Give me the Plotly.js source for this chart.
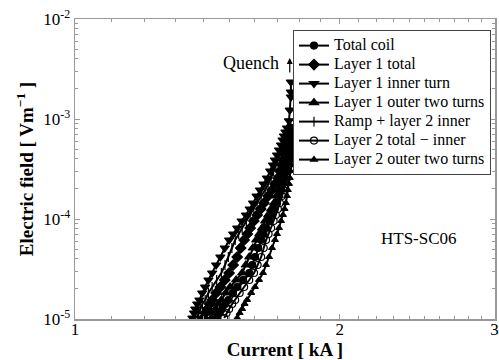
<!DOCTYPE html>
<html>
<head>
<meta charset="utf-8">
<script src="https://cdn.plot.ly/plotly-3.0.1.min.js"></script>
<style>html,body{margin:0;padding:0;background:#fff;}#chart{width:499px;height:360px;}</style>
</head>
<body>
<div id="chart"></div>
<script>
// Electric field levels (V/m) shared by the band of curves
const fieldLevels = [1.023e-5, 1.148e-5, 1.259e-5, 1.413e-5, 1.549e-5, 1.820e-5, 2.089e-5, 2.455e-5, 2.884e-5, 3.467e-5, 4.169e-5, 5.129e-5, 6.166e-5, 7.079e-5, 8.128e-5, 9.550e-5, 1.096e-4, 1.259e-4, 1.445e-4, 1.698e-4, 1.950e-4, 2.239e-4, 2.570e-4, 3.020e-4, 3.467e-4, 3.890e-4, 4.365e-4, 4.898e-4, 5.495e-4, 6.166e-4, 6.761e-4, 7.413e-4, 8.128e-4];

// Currents (kA) per series, read at the field levels above
const totalCoilI   = [1.451, 1.460, 1.470, 1.482, 1.494, 1.511, 1.529, 1.553, 1.578, 1.590, 1.602, 1.615, 1.628, 1.638, 1.649, 1.662, 1.675, 1.686, 1.697, 1.706, 1.715, 1.722, 1.728, 1.735, 1.742, 1.747, 1.751, 1.753, 1.755, 1.758, 1.760, 1.760, 1.760];
const layer1TotalI = [1.399, 1.406, 1.414, 1.423, 1.432, 1.447, 1.463, 1.480, 1.497, 1.513, 1.529, 1.543, 1.557, 1.570, 1.582, 1.597, 1.611, 1.626, 1.640, 1.658, 1.675, 1.688, 1.701, 1.710, 1.719, 1.726, 1.733, 1.738, 1.742, 1.747, 1.751, 1.753, 1.755];
const layer1InnerI = [1.360, 1.366, 1.370, 1.377, 1.385, 1.395, 1.406, 1.418, 1.432, 1.447, 1.463, 1.480, 1.497, 1.513, 1.529, 1.547, 1.565, 1.580, 1.594, 1.609, 1.623, 1.638, 1.653, 1.667, 1.679, 1.688, 1.697, 1.706, 1.715, 1.722, 1.728, 1.735, 1.742];
// inner turn continues vertically up to the quench
const layer1InnerQuenchI = [1.751, 1.755, 1.760, 1.760, 1.760];
const layer1InnerQuenchE = [9.6e-4, 1.23e-3, 1.66e-3, 1.86e-3, 2.34e-3];
const layer1OuterI = [1.429, 1.436, 1.444, 1.455, 1.467, 1.484, 1.501, 1.525, 1.549, 1.564, 1.578, 1.593, 1.607, 1.620, 1.632, 1.645, 1.658, 1.671, 1.684, 1.695, 1.706, 1.715, 1.724, 1.731, 1.737, 1.742, 1.746, 1.749, 1.751, 1.753, 1.755, 1.758, 1.760];
const rampLayer2InnerI = [1.377, 1.382, 1.388, 1.396, 1.406, 1.418, 1.432, 1.449, 1.467, 1.481, 1.494, 1.508, 1.521, 1.535, 1.549, 1.566, 1.582, 1.597, 1.611, 1.628, 1.645, 1.658, 1.671, 1.682, 1.692, 1.701, 1.710, 1.719, 1.728, 1.733, 1.737, 1.744, 1.751];
const layer2TotalMinusInnerI = [1.478, 1.487, 1.497, 1.509, 1.521, 1.539, 1.557, 1.578, 1.598, 1.613, 1.628, 1.639, 1.649, 1.660, 1.671, 1.682, 1.692, 1.701, 1.710, 1.719, 1.728, 1.735, 1.742, 1.747, 1.751, 1.753, 1.755, 1.758, 1.760, 1.762, 1.764, 1.764, 1.764];
const layer2OuterI = [1.529, 1.539, 1.549, 1.559, 1.569, 1.586, 1.602, 1.619, 1.636, 1.649, 1.662, 1.675, 1.688, 1.697, 1.706, 1.715, 1.724, 1.731, 1.737, 1.742, 1.746, 1.751, 1.755, 1.758, 1.760, 1.762, 1.764, 1.767, 1.769, 1.769, 1.769, 1.769, 1.769];

const seriesNames = ['Total coil', 'Layer 1 total', 'Layer 1 inner turn', 'Layer 1 outer two turns', 'Ramp + layer 2 inner', 'Layer 2 total \u2212 inner', 'Layer 2 outer two turns'];

const xTickVals = [1, 2, 3];
const xTickText = ['1', '2', '3'];
const yTickVals = [1e-5, 1e-4, 1e-3, 1e-2];
const yTickText = ['10<sup>-5</sup>', '10<sup>-4</sup>', '10<sup>-3</sup>', '10<sup>-2</sup>'];

// minor tick positions (log sub-divisions)
const xMinor = [];
for (let k = 11; k < 30; k++) { if (k !== 20) xMinor.push(k / 10); }
const yMinor = [];
for (let d = -5; d < -2; d++) { for (let k = 2; k <= 9; k++) yMinor.push(k * Math.pow(10, d)); }

const serif = 'Liberation Serif, Times New Roman, serif';

function mk(name, x, y, symbol, size) {
  return {
    type: 'scatter', mode: 'lines+markers',
    name: '<span style="font-size:16px">' + name + '</span>',
    x: x, y: y,
    line: {color: '#000', width: 2},
    marker: {symbol: symbol, size: size, color: '#000', line: {color: '#000', width: 1.2}}
  };
}

const traces = [
  mk(seriesNames[0], totalCoilI, fieldLevels, 'circle', 7),
  mk(seriesNames[1], layer1TotalI, fieldLevels, 'diamond', 8),
  mk(seriesNames[2], layer1InnerI.concat(layer1InnerQuenchI), fieldLevels.concat(layer1InnerQuenchE), 'triangle-down', 8),
  mk(seriesNames[3], layer1OuterI, fieldLevels, 'triangle-up', 8),
  mk(seriesNames[4], rampLayer2InnerI, fieldLevels, 'line-ns-open', 7),
  mk(seriesNames[5], layer2TotalMinusInnerI, fieldLevels, 'circle-open', 7),
  mk(seriesNames[6], layer2OuterI, fieldLevels, 'triangle-up', 6)
];

const axisCommon = {
  showline: true, linecolor: '#999', linewidth: 1.5, mirror: 'ticks',
  ticks: 'inside', ticklen: 5, tickcolor: '#999', tickwidth: 1,
  showgrid: false, zeroline: false, automargin: false,
  tickfont: {family: serif, size: 17, color: '#000'}
};

const layout = {
  width: 499, height: 360,
  margin: {l: 75, r: 4, t: 19, b: 41},
  paper_bgcolor: '#fff', plot_bgcolor: '#fff',
  showlegend: true,
  xaxis: Object.assign({}, axisCommon, {
    type: 'log', range: [0, Math.log10(3.003)],
    tickmode: 'array', tickvals: xTickVals, ticktext: xTickText,
    ticklabelstandoff: -6,
    minor: {tickmode: 'array', tickvals: xMinor, ticks: 'inside', ticklen: 3, tickcolor: '#999'},
    title: {text: 'Current [ kA ]', font: {family: serif, size: 19, color: '#000', weight: 'bold'}, standoff: 3}
  }),
  yaxis: Object.assign({}, axisCommon, {
    type: 'log', range: [-5, -2],
    tickmode: 'array', tickvals: yTickVals, ticktext: yTickText,
    minor: {tickmode: 'array', tickvals: yMinor, ticks: 'inside', ticklen: 3, tickcolor: '#999'},
    title: {text: 'Electric field [ Vm<sup>\u22121</sup> ]', font: {family: serif, size: 19, color: '#000', weight: 'bold'}, standoff: 4}
  }),
  legend: {
    x: 0.519, y: 0.963, xanchor: 'left', yanchor: 'top',
    bgcolor: '#fff', bordercolor: '#444', borderwidth: 1,
    font: {family: serif, size: 12, color: '#000'},
    itemwidth: 30, tracegroupgap: 0
  },
  annotations: [
    {x: 0.2001, y: -2.44, xref: 'x', yref: 'y', text: 'Quench', showarrow: false,
     font: {family: serif, size: 18, color: '#000'}},
    {x: 0.2442, y: -2.39, xref: 'x', yref: 'y', text: '', showarrow: true,
     ax: 0, ay: 16, arrowhead: 2, arrowsize: 1, arrowwidth: 1.2, arrowcolor: '#000'},
    {x: 0.3912, y: -4.19, xref: 'x', yref: 'y', text: 'HTS-SC06', showarrow: false,
     font: {family: serif, size: 17, color: '#000'}}
  ]
};

Plotly.newPlot('chart', traces, layout, {displayModeBar: false, staticPlot: true});
</script>
</body>
</html>
